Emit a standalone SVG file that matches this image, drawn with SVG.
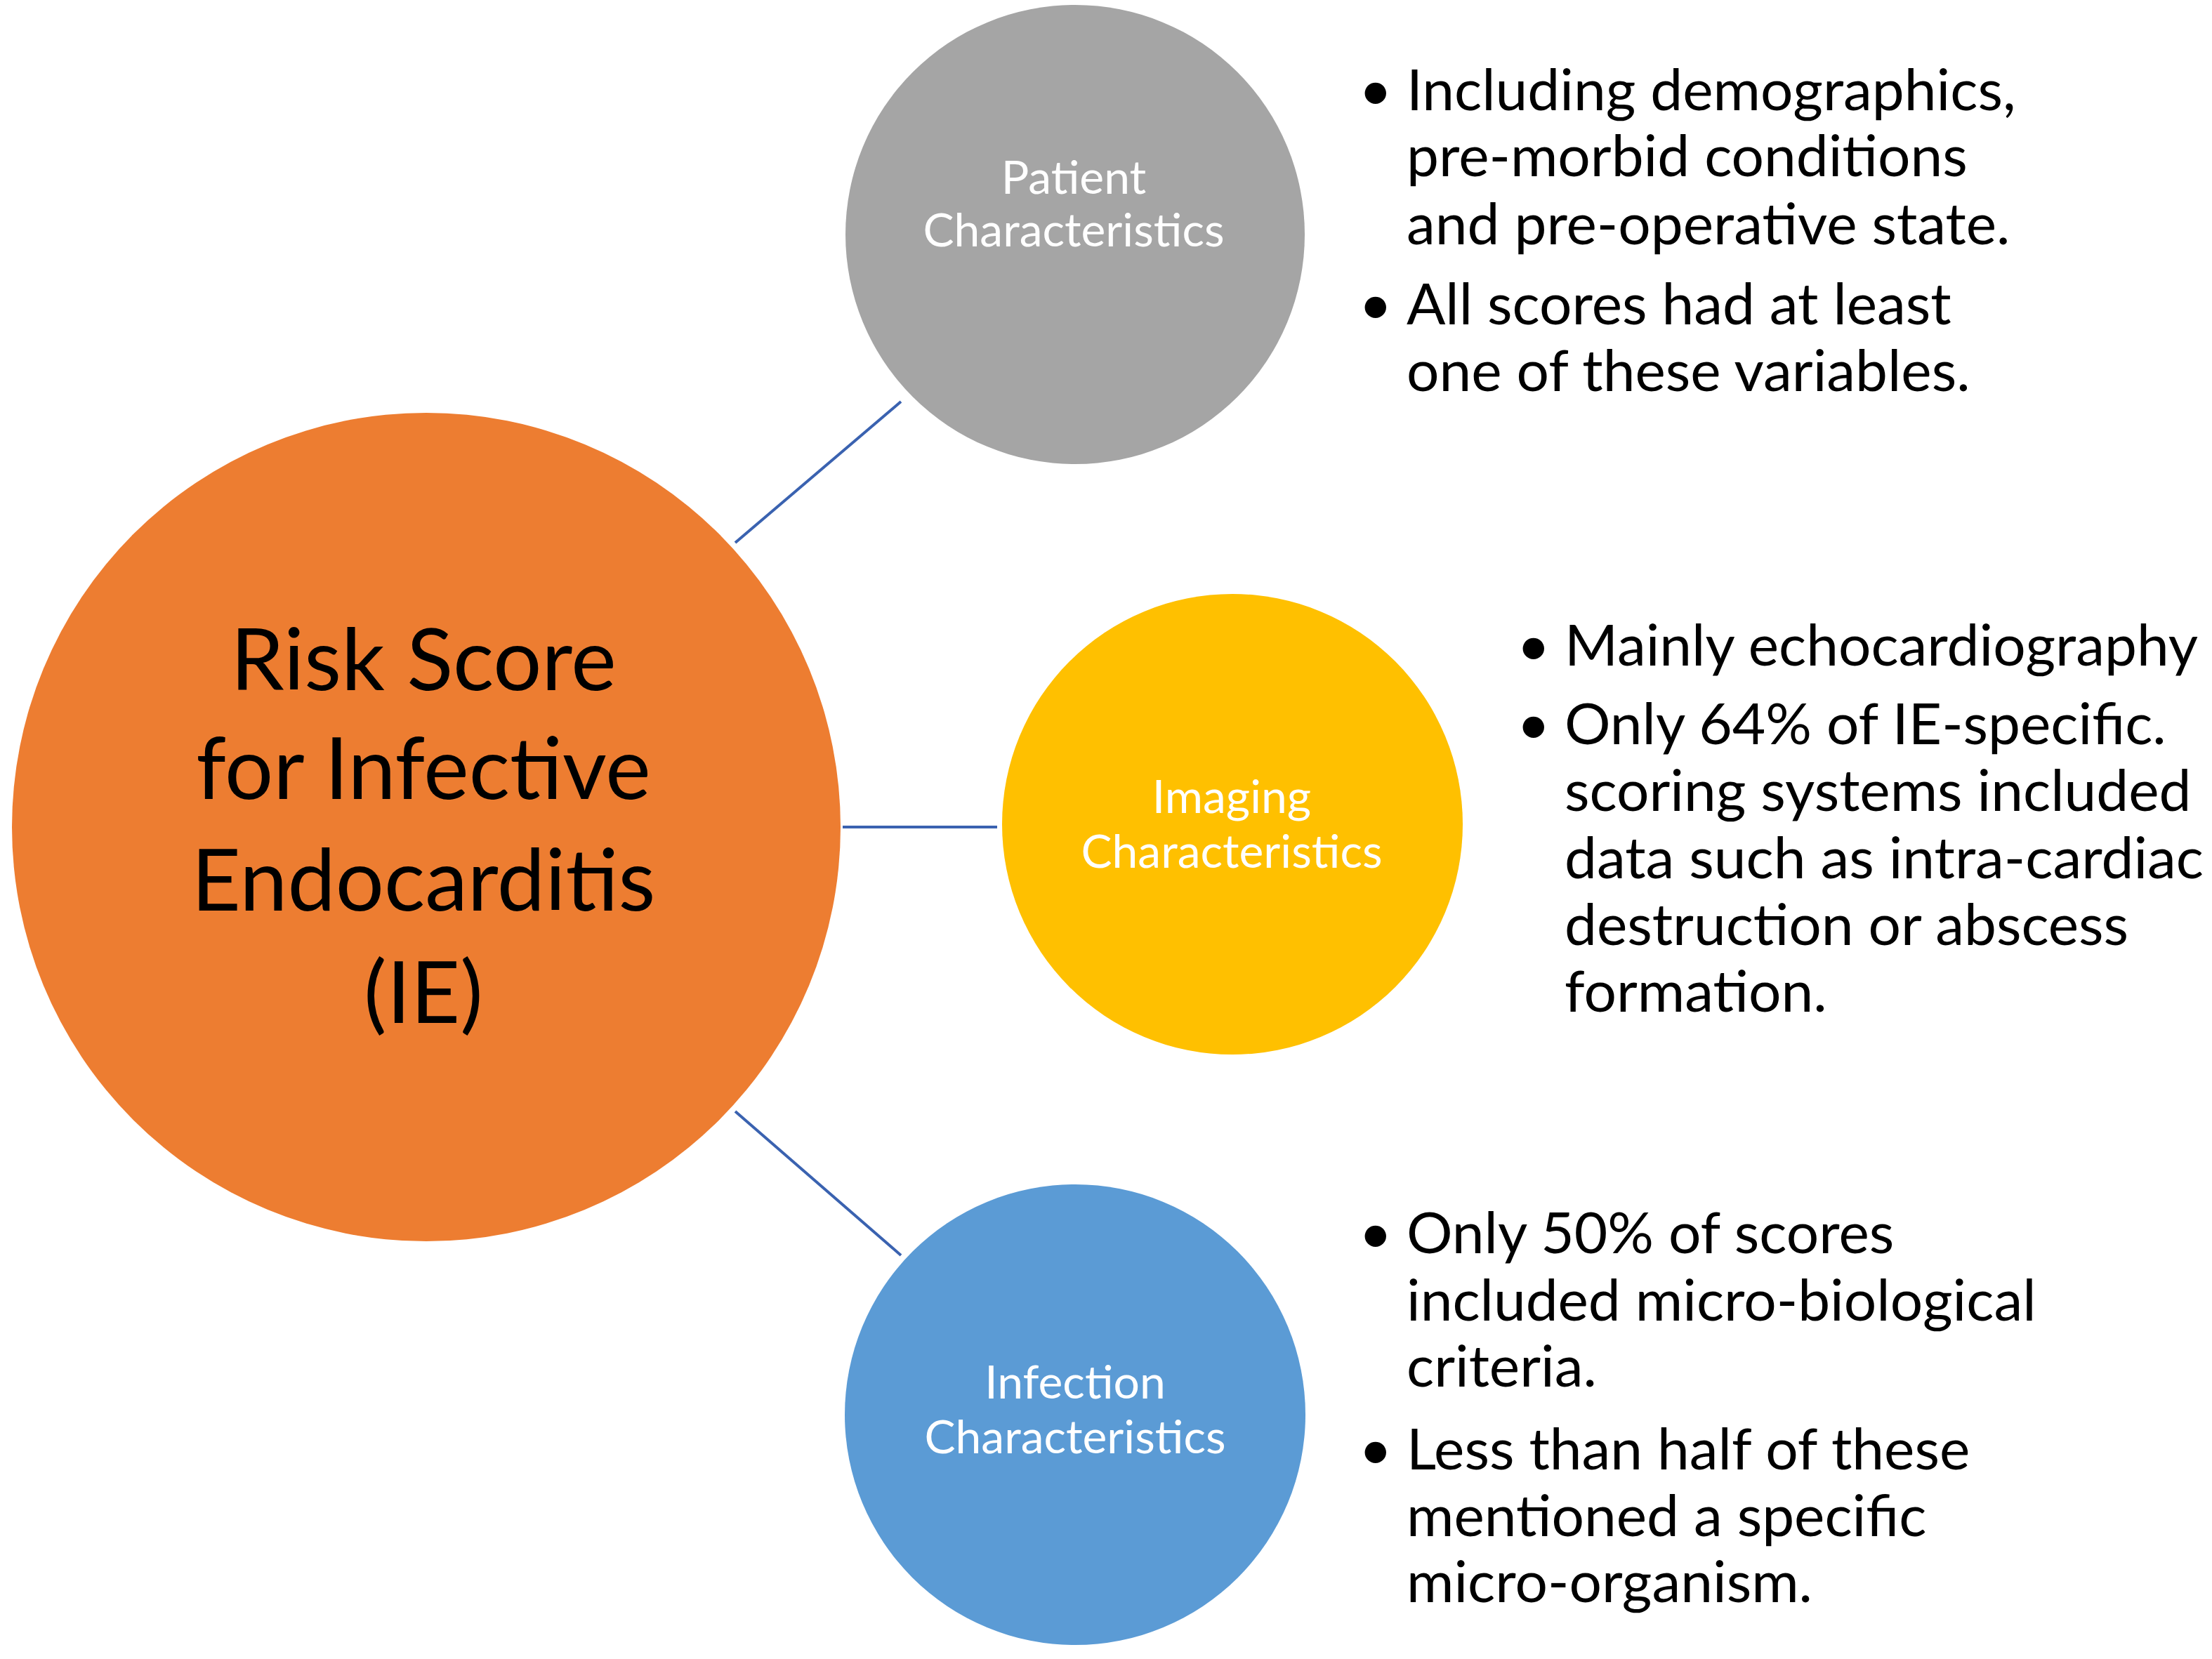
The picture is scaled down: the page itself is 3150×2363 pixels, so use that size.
<svg xmlns="http://www.w3.org/2000/svg" width="3150" height="2363" viewBox="0 0 3150 2363">
<style>
.lbl{font-family:Lato,"Open Sans",sans-serif;fill:#ffffff;text-anchor:middle;font-size:66px}
.main{font-family:Lato,"Open Sans",sans-serif;fill:#000000;text-anchor:middle;font-size:122px}
.bt{font-family:Lato,"Open Sans",sans-serif;fill:#000000;font-size:82px}
.conn{stroke:#3A62B0;stroke-width:4;fill:none}
</style>
<rect width="3150" height="2363" fill="#ffffff"/>
<g id="connectors">
<line class="conn" x1="1047" y1="773" x2="1283" y2="572"/>
<line class="conn" x1="1200" y1="1178" x2="1420" y2="1178"/>
<line class="conn" x1="1047" y1="1583" x2="1283" y2="1788"/>
</g>
<g id="main">
<circle cx="607" cy="1178" r="590" fill="#ED7D31"/>
<text class="main" x="603" y="983">Risk Score</text>
<text class="main" x="603" y="1138">for Infective</text>
<text class="main" x="603" y="1297">Endocarditis</text>
<text class="main" x="603" y="1457">(IE)</text>
</g>
<g id="patient">
<circle cx="1531" cy="334" r="327" fill="#A5A5A5"/>
<text class="lbl" x="1529" y="276">Patient</text>
<text class="lbl" x="1529" y="351">Characteristics</text>
</g>
<g id="imaging">
<circle cx="1755" cy="1174" r="328" fill="#FFC000"/>
<text class="lbl" x="1754" y="1158">Imaging</text>
<text class="lbl" x="1754" y="1236">Characteristics</text>
</g>
<g id="infection">
<circle cx="1531" cy="2015" r="328" fill="#5B9BD5"/>
<text class="lbl" x="1531" y="1992">Infection</text>
<text class="lbl" x="1531" y="2070">Characteristics</text>
</g>
<g id="patient-notes">
<text class="bt" x="1935" y="157">•</text>
<text class="bt" x="2003" y="157">Including demographics,</text>
<text class="bt" x="2003" y="251">pre-morbid conditions</text>
<text class="bt" x="2003" y="348">and pre-operative state.</text>
<text class="bt" x="1935" y="462">•</text>
<text class="bt" x="2003" y="462">All scores had at least</text>
<text class="bt" x="2003" y="557">one of these variables.</text>
</g>
<g id="imaging-notes">
<text class="bt" x="2160" y="948">•</text>
<text class="bt" x="2228" y="948">Mainly echocardiography</text>
<text class="bt" x="2160" y="1060">•</text>
<text class="bt" x="2228" y="1060">Only 64% of IE-specific.</text>
<text class="bt" x="2228" y="1155">scoring systems included</text>
<text class="bt" x="2228" y="1251">data such as intra-cardiac</text>
<text class="bt" x="2228" y="1346">destruction or abscess</text>
<text class="bt" x="2228" y="1441">formation.</text>
</g>
<g id="infection-notes">
<text class="bt" x="1935" y="1785">•</text>
<text class="bt" x="2003" y="1785">Only 50% of scores</text>
<text class="bt" x="2003" y="1881">included micro-biological</text>
<text class="bt" x="2003" y="1975">criteria.</text>
<text class="bt" x="1935" y="2093">•</text>
<text class="bt" x="2003" y="2093">Less than half of these</text>
<text class="bt" x="2003" y="2188">mentioned a specific</text>
<text class="bt" x="2003" y="2282">micro-organism.</text>
</g>
</svg>
